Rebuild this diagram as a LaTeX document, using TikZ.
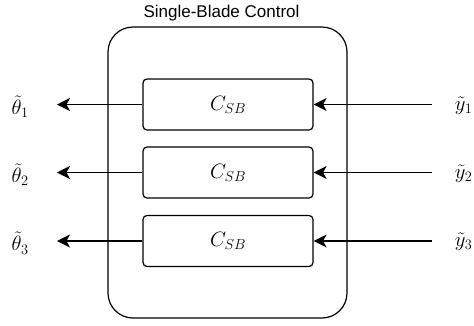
\documentclass[tikz,border=0pt]{standalone}
\usepackage{fontspec}
\newfontfamily\titlefont{Liberation Sans}
\usetikzlibrary{arrows.meta}
\begin{document}
\begin{tikzpicture}[x=1pt,y=-1pt,
  line width=1.2pt,
  outerbox/.style={draw,rounded corners=25pt,minimum width=239pt,minimum height=291pt,inner sep=0pt},
  ctrlbox/.style={draw,rounded corners=4pt,minimum width=170pt,minimum height=51pt,inner sep=0pt,font=\fontsize{20}{24}\selectfont},
  lbl/.style={inner sep=0pt,font=\fontsize{20}{24}\selectfont},
  sig/.style={-{Stealth[length=13pt,width=13pt,inset=3.5pt]}}]
\useasboundingbox (0,0) rectangle (474,325);
\node[outerbox] (outer) at (227.5,172.5) {};
\node[inner sep=0pt,font=\titlefont\fontsize{17}{20}\selectfont,anchor=base] (title) at (221.5,17) {Single-Blade Control};
\foreach \i/\y in {1/104.5,2/172.5,3/241}{
  \node[ctrlbox] (c\i) at (228,\y) {$C_{SB}$};
  \node[lbl,anchor=west] (th\i) at (11,\y+2) {$\tilde{\theta}_\i$};
  \node[lbl,anchor=east] (y\i) at (473,\y+1) {$\tilde{y}_\i$};
  \coordinate (lt\i) at (57,\y);
  \coordinate (rt\i) at (432,\y);
  \draw[sig] (c\i.west) -- (lt\i);
  \draw[sig] (rt\i) -- (c\i.east);
}
\end{tikzpicture}
\end{document}
